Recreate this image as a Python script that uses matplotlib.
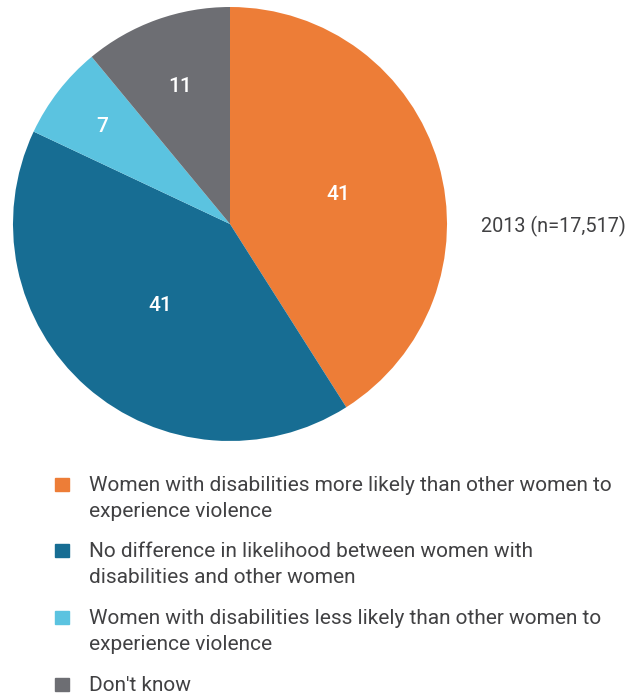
import matplotlib.pyplot as plt
from matplotlib.patches import Rectangle
import numpy as np

plt.rcParams['font.family'] = ['Roboto', 'DejaVu Sans']

# Data
categories = [
    'Women with disabilities more likely than other women to\nexperience violence',
    'No difference in likelihood between women with\ndisabilities and other women',
    'Women with disabilities less likely than other women to\nexperience violence',
    "Don't know",
]
values = [41, 41, 7, 11]
colors = ['#ED7D37', '#176D93', '#5BC3E0', '#6D6E73']
year_label = '2013 (n=17,517)'

label_radii = [0.518, 0.489, 0.746, 0.681]
text_color = '#414143'
W, H = 633, 698

fig = plt.figure(figsize=(W / 100, H / 100), dpi=100)
ax = fig.add_axes([13 / W, 1 - 441 / H, 434 / W, 434 / H])

wedges, _ = ax.pie(values, colors=colors, startangle=90, counterclock=False,
                   radius=1, wedgeprops=dict(linewidth=0))
ax.set_xlim(-1, 1)
ax.set_ylim(-1, 1)
ax.set_aspect('equal')
ax.axis('off')

# Value labels inside slices (baseline shifted by half the digit height)
half_digit = 7.5 / 217
for w, v, r in zip(wedges, values, label_radii):
    ang = np.deg2rad((w.theta1 + w.theta2) / 2)
    ax.text(r * np.cos(ang), r * np.sin(ang) - half_digit, str(v), color='white',
            fontsize=15, fontweight='medium', ha='center', va='baseline')

fig.text(481 / W, 1 - 232 / H, year_label, color=text_color,
         fontsize=14.3, ha='left', va='baseline')

# Legend
baselines = [491, 557, 624, 691]
line_gap = 26
for base, lab, c in zip(baselines, categories, colors):
    fig.patches.append(Rectangle((55 / W, 1 - base / H), 14 / W, 13 / H,
                                 transform=fig.transFigure, color=c))
    for i, line in enumerate(lab.split('\n')):
        fig.text(89 / W, 1 - (base + i * line_gap) / H, line, color=text_color,
                 fontsize=15, ha='left', va='baseline')

fig.savefig('out.png', dpi=100)
